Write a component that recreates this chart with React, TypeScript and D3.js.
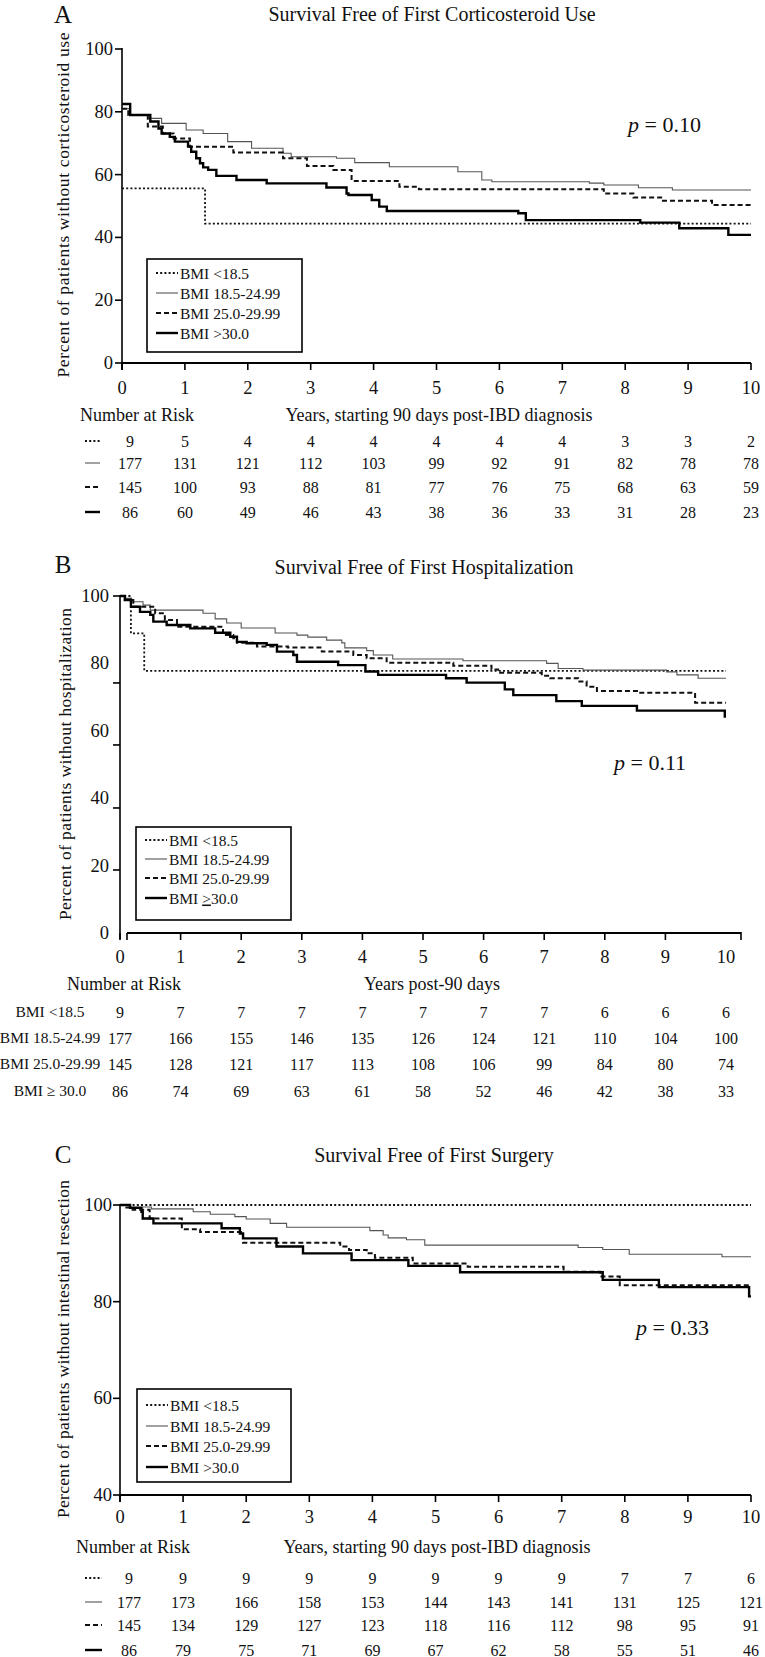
import React from 'react';
import * as d3 from 'd3';

// ---------- shared data ----------
const years = [0, 1, 2, 3, 4, 5, 6, 7, 8, 9, 10];
const groupKeys = ['under', 'normal', 'over', 'obese'];
const legendLabelsAC = ['BMI <18.5', 'BMI 18.5-24.99', 'BMI 25.0-29.99', 'BMI >30.0'];
const legendLabelsB = ['BMI <18.5', 'BMI 18.5-24.99', 'BMI 25.0-29.99', 'BMI ≥30.0'];
const riskRowLabelsB = ['BMI <18.5', 'BMI 18.5-24.99', 'BMI 25.0-29.99', 'BMI ≥ 30.0'];

// ---------- Panel A: corticosteroid ----------
const titleA = 'Survival Free of First Corticosteroid Use';
const yTitleA = 'Percent of patients without corticosteroid use';
const xTitleA = 'Years, starting 90 days post-IBD diagnosis';
const pA = '0.10';
const yTicksA = [0, 20, 40, 60, 80, 100];
const A_under: [number, number][] = [[0, 55.6], [1.32, 44.4], [10, 44.4]];
const A_normal: [number, number][] = [[0, 81], [0.13, 79], [0.41, 77.9], [0.63, 76.3], [1.02, 74.2], [1.29, 73.1], [1.68, 70.5], [2.06, 68.4], [2.56, 66.8], [2.69, 65.7], [3.41, 65.2], [3.7, 63.8], [4.25, 62.5], [5.34, 60.9], [5.72, 58.3], [5.88, 57.7], [7.43, 57.3], [7.66, 56.7], [8.21, 55.8], [8.75, 55.1], [10, 55.1]];
const A_over: [number, number][] = [[0, 81], [0.1, 79], [0.41, 75.3], [0.65, 73.1], [0.82, 71.5], [1.08, 68.9], [1.77, 67], [2.56, 65.2], [2.94, 62.7], [3.36, 61.5], [3.65, 58], [4.41, 56.1], [4.72, 55.3], [7.43, 55.3], [7.66, 54.0], [8.13, 52.7], [8.6, 51.7], [9.38, 50.3], [10, 50.3]];
const A_obese: [number, number][] = [[0, 82.5], [0.13, 79], [0.45, 76.9], [0.58, 74.7], [0.63, 73.1], [0.76, 72], [0.84, 70.5], [1.05, 68.9], [1.1, 67.3], [1.18, 65.2], [1.24, 63.6], [1.29, 62.3], [1.37, 61.5], [1.5, 59.6], [1.82, 58.3], [2.3, 57.2], [3.25, 55.9], [3.57, 54], [3.6, 53.5], [3.97, 51.9], [4.09, 49.8], [4.21, 48.4], [6.3, 47.7], [6.42, 45.5], [8.24, 44.7], [8.86, 42.9], [9.64, 40.8], [10, 40.8]];
const riskA_under = [9, 5, 4, 4, 4, 4, 4, 4, 3, 3, 2];
const riskA_normal = [177, 131, 121, 112, 103, 99, 92, 91, 82, 78, 78];
const riskA_over = [145, 100, 93, 88, 81, 77, 76, 75, 68, 63, 59];
const riskA_obese = [86, 60, 49, 46, 43, 38, 36, 33, 31, 28, 23];

// ---------- Panel B: hospitalization ----------
const titleB = 'Survival Free of First Hospitalization';
const yTitleB = 'Percent of patients without hospitalization';
const xTitleB = 'Years post-90 days';
const pB = '0.11';
const yTickLabelsB = [0, 20, 40, 60, 80, 100];
const yTickMarksB = [18.7, 37.1, 55.8, 74.2, 100];
const B_under: [number, number][] = [[0, 100], [0.18, 88.9], [0.4, 77.8], [10, 77.8]];
const B_normal: [number, number][] = [[0, 100], [0.08, 99.3], [0.19, 98.3], [0.38, 97.3], [0.5, 95.8], [1.37, 94.9], [1.57, 93.2], [1.76, 92], [2.0, 90.5], [2.56, 89], [2.92, 88.4], [3.1, 87.8], [3.41, 86.9], [3.66, 86.1], [3.71, 84.6], [4.07, 83.8], [4.18, 82.5], [4.5, 81.3], [5.66, 80.8], [7.04, 80], [7.23, 78.5], [7.64, 78.0], [9.02, 77.5], [9.19, 76.6], [9.54, 75.6], [10, 75.6]];
const B_over: [number, number][] = [[0, 100], [0.08, 98.8], [0.22, 96.8], [0.58, 94.9], [0.74, 92.9], [0.94, 90.9], [1.7, 88.4], [1.87, 87.5], [1.93, 86.1], [2.26, 85], [2.77, 84.7], [3.33, 83.5], [3.85, 82.5], [4.07, 81.5], [4.4, 80.2], [5.5, 79.3], [6.13, 78.2], [6.24, 77.2], [6.96, 76.3], [7.1, 75.6], [7.56, 74.6], [7.7, 73.1], [7.87, 71.8], [8.55, 71.3], [9.49, 68.3], [10, 68.3]];
const B_obese: [number, number][] = [[0, 100], [0.08, 98.8], [0.18, 96.8], [0.33, 95.3], [0.5, 94.4], [0.55, 92.4], [0.77, 91.4], [1.16, 90.4], [1.57, 89.1], [1.82, 87.9], [1.93, 86.4], [2.09, 86], [2.42, 85.5], [2.59, 83.5], [2.86, 82.5], [2.92, 80.5], [3.6, 79.5], [4.05, 77.6], [4.26, 76.6], [5.38, 75.6], [5.72, 74.3], [6.35, 72.3], [6.49, 70.6], [7.2, 68.8], [7.62, 67.4], [8.53, 66], [9.98, 64.2], [10, 64.2]];
const riskB_under = [9, 7, 7, 7, 7, 7, 7, 7, 6, 6, 6];
const riskB_normal = [177, 166, 155, 146, 135, 126, 124, 121, 110, 104, 100];
const riskB_over = [145, 128, 121, 117, 113, 108, 106, 99, 84, 80, 74];
const riskB_obese = [86, 74, 69, 63, 61, 58, 52, 46, 42, 38, 33];

// ---------- Panel C: surgery ----------
const titleC = 'Survival Free of First Surgery';
const yTitleC = 'Percent of patients without intestinal resection';
const xTitleC = 'Years, starting 90 days post-IBD diagnosis';
const pC = '0.33';
const yTicksC = [40, 60, 80, 100];
const C_under: [number, number][] = [[0, 100], [10, 100]];
const C_normal: [number, number][] = [[0, 100], [0.15, 99.6], [0.5, 99.2], [1.16, 98.6], [1.43, 98.1], [1.82, 97.6], [2.0, 97.1], [2.38, 96.2], [2.64, 95.4], [3.96, 94.7], [4.17, 93.8], [4.25, 93.2], [4.54, 92.8], [4.83, 91.7], [7.26, 91.2], [7.65, 90.8], [8.07, 89.8], [9.54, 89.3], [10, 89.3]];
const C_over: [number, number][] = [[0, 100], [0.1, 99.5], [0.2, 99], [0.47, 97.2], [0.98, 95], [1.27, 94.4], [1.95, 92.2], [3.49, 91.4], [3.63, 90.7], [3.91, 90], [4.04, 89.1], [4.64, 87.9], [5.51, 87.2], [7.03, 86.2], [7.61, 85.2], [7.92, 83.4], [10, 83.4]];
const C_obese: [number, number][] = [[0, 100], [0.16, 99.4], [0.34, 98.6], [0.36, 97.2], [0.53, 96.2], [1.61, 95.2], [1.9, 94.1], [1.95, 93.1], [2.48, 91.4], [2.9, 90], [3.67, 88.6], [4.57, 87.4], [5.39, 86.1], [7.65, 84.5], [8.54, 83.0], [9.97, 81.1], [10, 81.1]];
const riskC_under = [9, 9, 9, 9, 9, 9, 9, 9, 7, 7, 6];
const riskC_normal = [177, 173, 166, 158, 153, 144, 143, 141, 131, 125, 121];
const riskC_over = [145, 134, 129, 127, 123, 118, 116, 112, 98, 95, 91];
const riskC_obese = [86, 79, 75, 71, 69, 67, 62, 58, 55, 51, 46];

// ---------- styles ----------
const lineStyle: Record<string, { dash?: string; width: number; color: string }> = {
  under: { dash: '2,2.2', width: 1.8, color: '#111' },
  normal: { width: 1.1, color: '#555' },
  over: { dash: '5,3', width: 2, color: '#111' },
  obese: { width: 2.4, color: '#000' },
};
const FONT = '"Liberation Serif", "DejaVu Serif", serif';

type Series = [number, number][];

interface PanelCfg {
  letter: string;
  title: string;
  yTitle: string;
  xTitle: string;
  p: string;
  series: Series[];
  risk: number[][];
  legend: string[];
  rowLabels?: string[];
  yDomain: [number, number];
  yRange: [number, number];
  xRange: [number, number];
  yTickLabels: number[];
  yTickMarks: number[];
  xAxisStart: number;
  xAxisEnd: number;
  letterPos: [number, number];
  titlePos: [number, number];
  pPos: [number, number];
  legendBox: [number, number, number, number];
  legendRows: number[];
  tickLabelY: number;
  riskHeaderY: number;
  riskHeaderX: number;
  riskHeaderAnchor: 'start' | 'middle';
  xTitleX: number;
  riskRows: number[];
  riskCol0Shift: number;
  symX: [number, number];
  yTitlePos: [number, number];
  yTitleLen: number;
  yLabelX: number;
  noTickAt10?: boolean;
}

function LegendText({ x, y, text }: { x: number; y: number; text: string }) {
  if (text.includes('≥') && text.indexOf('≥ ') === -1) {
    const [a, b] = text.split('≥');
    return (
      <text x={x} y={y} fontSize={15.5} fontFamily={FONT}>
        {a}
        <tspan textDecoration="underline">{'>'}</tspan>
        {b}
      </text>
    );
  }
  return (
    <text x={x} y={y} fontSize={15.5} fontFamily={FONT}>
      {text}
    </text>
  );
}

function Sample({ k, x1, x2, y }: { k: string; x1: number; x2: number; y: number }) {
  const s = lineStyle[k];
  return <line x1={x1} x2={x2} y1={y} y2={y} stroke={s.color} strokeWidth={s.width} strokeDasharray={s.dash} />;
}

function Panel({ c }: { c: PanelCfg }) {
  const x = d3.scaleLinear().domain([0, 10]).range(c.xRange);
  const y = d3.scaleLinear().domain(c.yDomain).range(c.yRange);
  const line = d3
    .line<[number, number]>()
    .x((d) => x(d[0]))
    .y((d) => y(d[1]))
    .curve(d3.curveStepAfter);
  const x0 = x(0);
  const yBottom = y(c.yDomain[0]);
  const yTop = y(c.yDomain[1]);
  const [lx1, ly1, lx2, ly2] = c.legendBox;
  return (
    <g fontFamily={FONT} fill="#111">
      <text x={c.letterPos[0]} y={c.letterPos[1]} fontSize={25} textAnchor="middle">
        {c.letter}
      </text>
      <text x={c.titlePos[0]} y={c.titlePos[1]} fontSize={20} textAnchor="middle">
        {c.title}
      </text>
      {/* y axis */}
      <line x1={x0} x2={x0} y1={yTop - 1} y2={yBottom + 6} stroke="#000" strokeWidth={1.6} />
      {c.yTickMarks.map((t) => (
        <line key={'ym' + t} x1={x0 - 7} x2={x0} y1={y(t)} y2={y(t)} stroke="#000" strokeWidth={1.6} />
      ))}
      {c.yTickLabels.map((t) => (
        <text key={'yl' + t} x={c.yLabelX} y={y(t) + 6} fontSize={18.5} textAnchor="end">
          {t}
        </text>
      ))}
      {/* x axis */}
      <line x1={c.xAxisStart} x2={c.xAxisEnd} y1={yBottom} y2={yBottom} stroke="#000" strokeWidth={2.2} />
      {years
        .filter((t) => !(c.noTickAt10 && t === 10))
        .map((t) => (
          <line key={'xm' + t} x1={x(t)} x2={x(t)} y1={yBottom} y2={yBottom + 7} stroke="#000" strokeWidth={1.6} />
        ))}
      {c.noTickAt10 && <line x1={c.xAxisEnd} x2={c.xAxisEnd} y1={yBottom - 1} y2={yBottom + 7} stroke="#000" strokeWidth={1.6} />}
      <line x1={c.xAxisStart} x2={c.xAxisStart} y1={yBottom} y2={yBottom + 7} stroke="#000" strokeWidth={1.6} />
      {years.map((t) => (
        <text key={'xl' + t} x={x(t)} y={c.tickLabelY} fontSize={18.5} textAnchor="middle">
          {t}
        </text>
      ))}
      {/* y title */}
      <text
        transform={`translate(${c.yTitlePos[0]},${c.yTitlePos[1]}) rotate(-90)`}
        fontSize={17.5}
        textAnchor="middle"
        textLength={c.yTitleLen}
        lengthAdjust="spacing"
      >
        {c.yTitle}
      </text>
      {/* curves */}
      {c.series.map((s, i) => {
        const st = lineStyle[groupKeys[i]];
        return (
          <path
            key={'s' + i}
            d={line(s) || ''}
            fill="none"
            stroke={st.color}
            strokeWidth={st.width}
            strokeDasharray={st.dash}
          />
        );
      })}
      {/* p value */}
      <text x={c.pPos[0]} y={c.pPos[1]} fontSize={22}>
        <tspan fontStyle="italic">p</tspan>
        {' = ' + c.p}
      </text>
      {/* legend */}
      <rect x={lx1} y={ly1} width={lx2 - lx1} height={ly2 - ly1} fill="#fff" stroke="#000" strokeWidth={1.6} />
      {c.legend.map((l, i) => (
        <g key={'lg' + i}>
          <Sample k={groupKeys[i]} x1={lx1 + 9} x2={lx1 + 31} y={c.legendRows[i]} />
          <LegendText x={lx1 + 33} y={c.legendRows[i] + 5.5} text={l} />
        </g>
      ))}
      {/* risk table */}
      <text x={c.riskHeaderX} y={c.riskHeaderY} fontSize={18} textAnchor={c.riskHeaderAnchor}>
        Number at Risk
      </text>
      <text x={c.xTitleX} y={c.riskHeaderY} fontSize={18} textAnchor="middle">
        {c.xTitle}
      </text>
      {c.risk.map((row, r) => (
        <g key={'r' + r}>
          {c.rowLabels ? (
            <text x={50} y={c.riskRows[r] + 5} fontSize={15.5} textAnchor="middle">
              {c.rowLabels[r]}
            </text>
          ) : (
            <Sample k={groupKeys[r]} x1={c.symX[0]} x2={c.symX[1]} y={c.riskRows[r]} />
          )}
          {row.map((v, j) => (
            <text
              key={'v' + j}
              x={x(years[j]) + (j === 0 ? c.riskCol0Shift : 0)}
              y={c.riskRows[r] + 5.5}
              fontSize={16}
              textAnchor="middle"
            >
              {v}
            </text>
          ))}
        </g>
      ))}
    </g>
  );
}

const panelA: PanelCfg = {
  letter: 'A',
  title: titleA,
  yTitle: yTitleA,
  xTitle: xTitleA,
  p: pA,
  series: [A_under, A_normal, A_over, A_obese],
  risk: [riskA_under, riskA_normal, riskA_over, riskA_obese],
  legend: legendLabelsAC,
  yDomain: [0, 100],
  yRange: [363, 49],
  xRange: [122, 751],
  yTickLabels: yTicksA,
  yTickMarks: yTicksA,
  xAxisStart: 122,
  xAxisEnd: 751,
  letterPos: [63, 23],
  titlePos: [432, 21],
  pPos: [628, 132],
  legendBox: [147, 259, 302, 352],
  legendRows: [273, 293, 313, 333],
  tickLabelY: 394,
  riskHeaderY: 421,
  riskHeaderX: 80,
  riskHeaderAnchor: 'start',
  xTitleX: 439,
  riskRows: [441, 463, 487, 512],
  riskCol0Shift: 8,
  symX: [85, 100],
  yTitlePos: [69, 205],
  yTitleLen: 345,
  yLabelX: 113,
};

const panelB: PanelCfg = {
  letter: 'B',
  title: titleB,
  yTitle: yTitleB,
  xTitle: xTitleB,
  p: pB,
  series: [B_under, B_normal, B_over, B_obese],
  risk: [riskB_under, riskB_normal, riskB_over, riskB_obese],
  legend: legendLabelsB,
  rowLabels: riskRowLabelsB,
  yDomain: [0, 100],
  yRange: [933, 596],
  xRange: [120, 726],
  yTickLabels: yTickLabelsB,
  yTickMarks: yTickMarksB,
  xAxisStart: 127,
  xAxisEnd: 741,
  letterPos: [63, 573],
  titlePos: [424, 574],
  pPos: [614, 770],
  legendBox: [136, 827, 291, 920],
  legendRows: [840, 859, 878, 898],
  tickLabelY: 963,
  riskHeaderY: 990,
  riskHeaderX: 124,
  riskHeaderAnchor: 'middle',
  xTitleX: 432,
  riskRows: [1012, 1038, 1064, 1091],
  riskCol0Shift: 0,
  symX: [0, 0],
  yTitlePos: [71, 764],
  yTitleLen: 312,
  yLabelX: 109,
  noTickAt10: true,
};

const panelC: PanelCfg = {
  letter: 'C',
  title: titleC,
  yTitle: yTitleC,
  xTitle: xTitleC,
  p: pC,
  series: [C_under, C_normal, C_over, C_obese],
  risk: [riskC_under, riskC_normal, riskC_over, riskC_obese],
  legend: legendLabelsAC,
  yDomain: [40, 100],
  yRange: [1495, 1205],
  xRange: [120, 751],
  yTickLabels: yTicksC,
  yTickMarks: yTicksC,
  xAxisStart: 120,
  xAxisEnd: 751,
  letterPos: [63, 1163],
  titlePos: [434, 1162],
  pPos: [636, 1335],
  legendBox: [137, 1389, 291, 1482],
  legendRows: [1405, 1426, 1446, 1467],
  tickLabelY: 1523,
  riskHeaderY: 1553,
  riskHeaderX: 76,
  riskHeaderAnchor: 'start',
  xTitleX: 437,
  riskRows: [1578, 1602, 1625, 1650],
  riskCol0Shift: 9,
  symX: [85, 102],
  yTitlePos: [69, 1349],
  yTitleLen: 338,
  yLabelX: 112,
};

export default function App() {
  return (
    <svg
      width={765}
      height={1657}
      viewBox="0 0 765 1657"
      style={{ position: 'absolute', left: 0, top: 0, background: '#fff' }}
    >
      <rect x={0} y={0} width={765} height={1657} fill="#fff" />
      <Panel c={panelA} />
      <Panel c={panelB} />
      <Panel c={panelC} />
    </svg>
  );
}
